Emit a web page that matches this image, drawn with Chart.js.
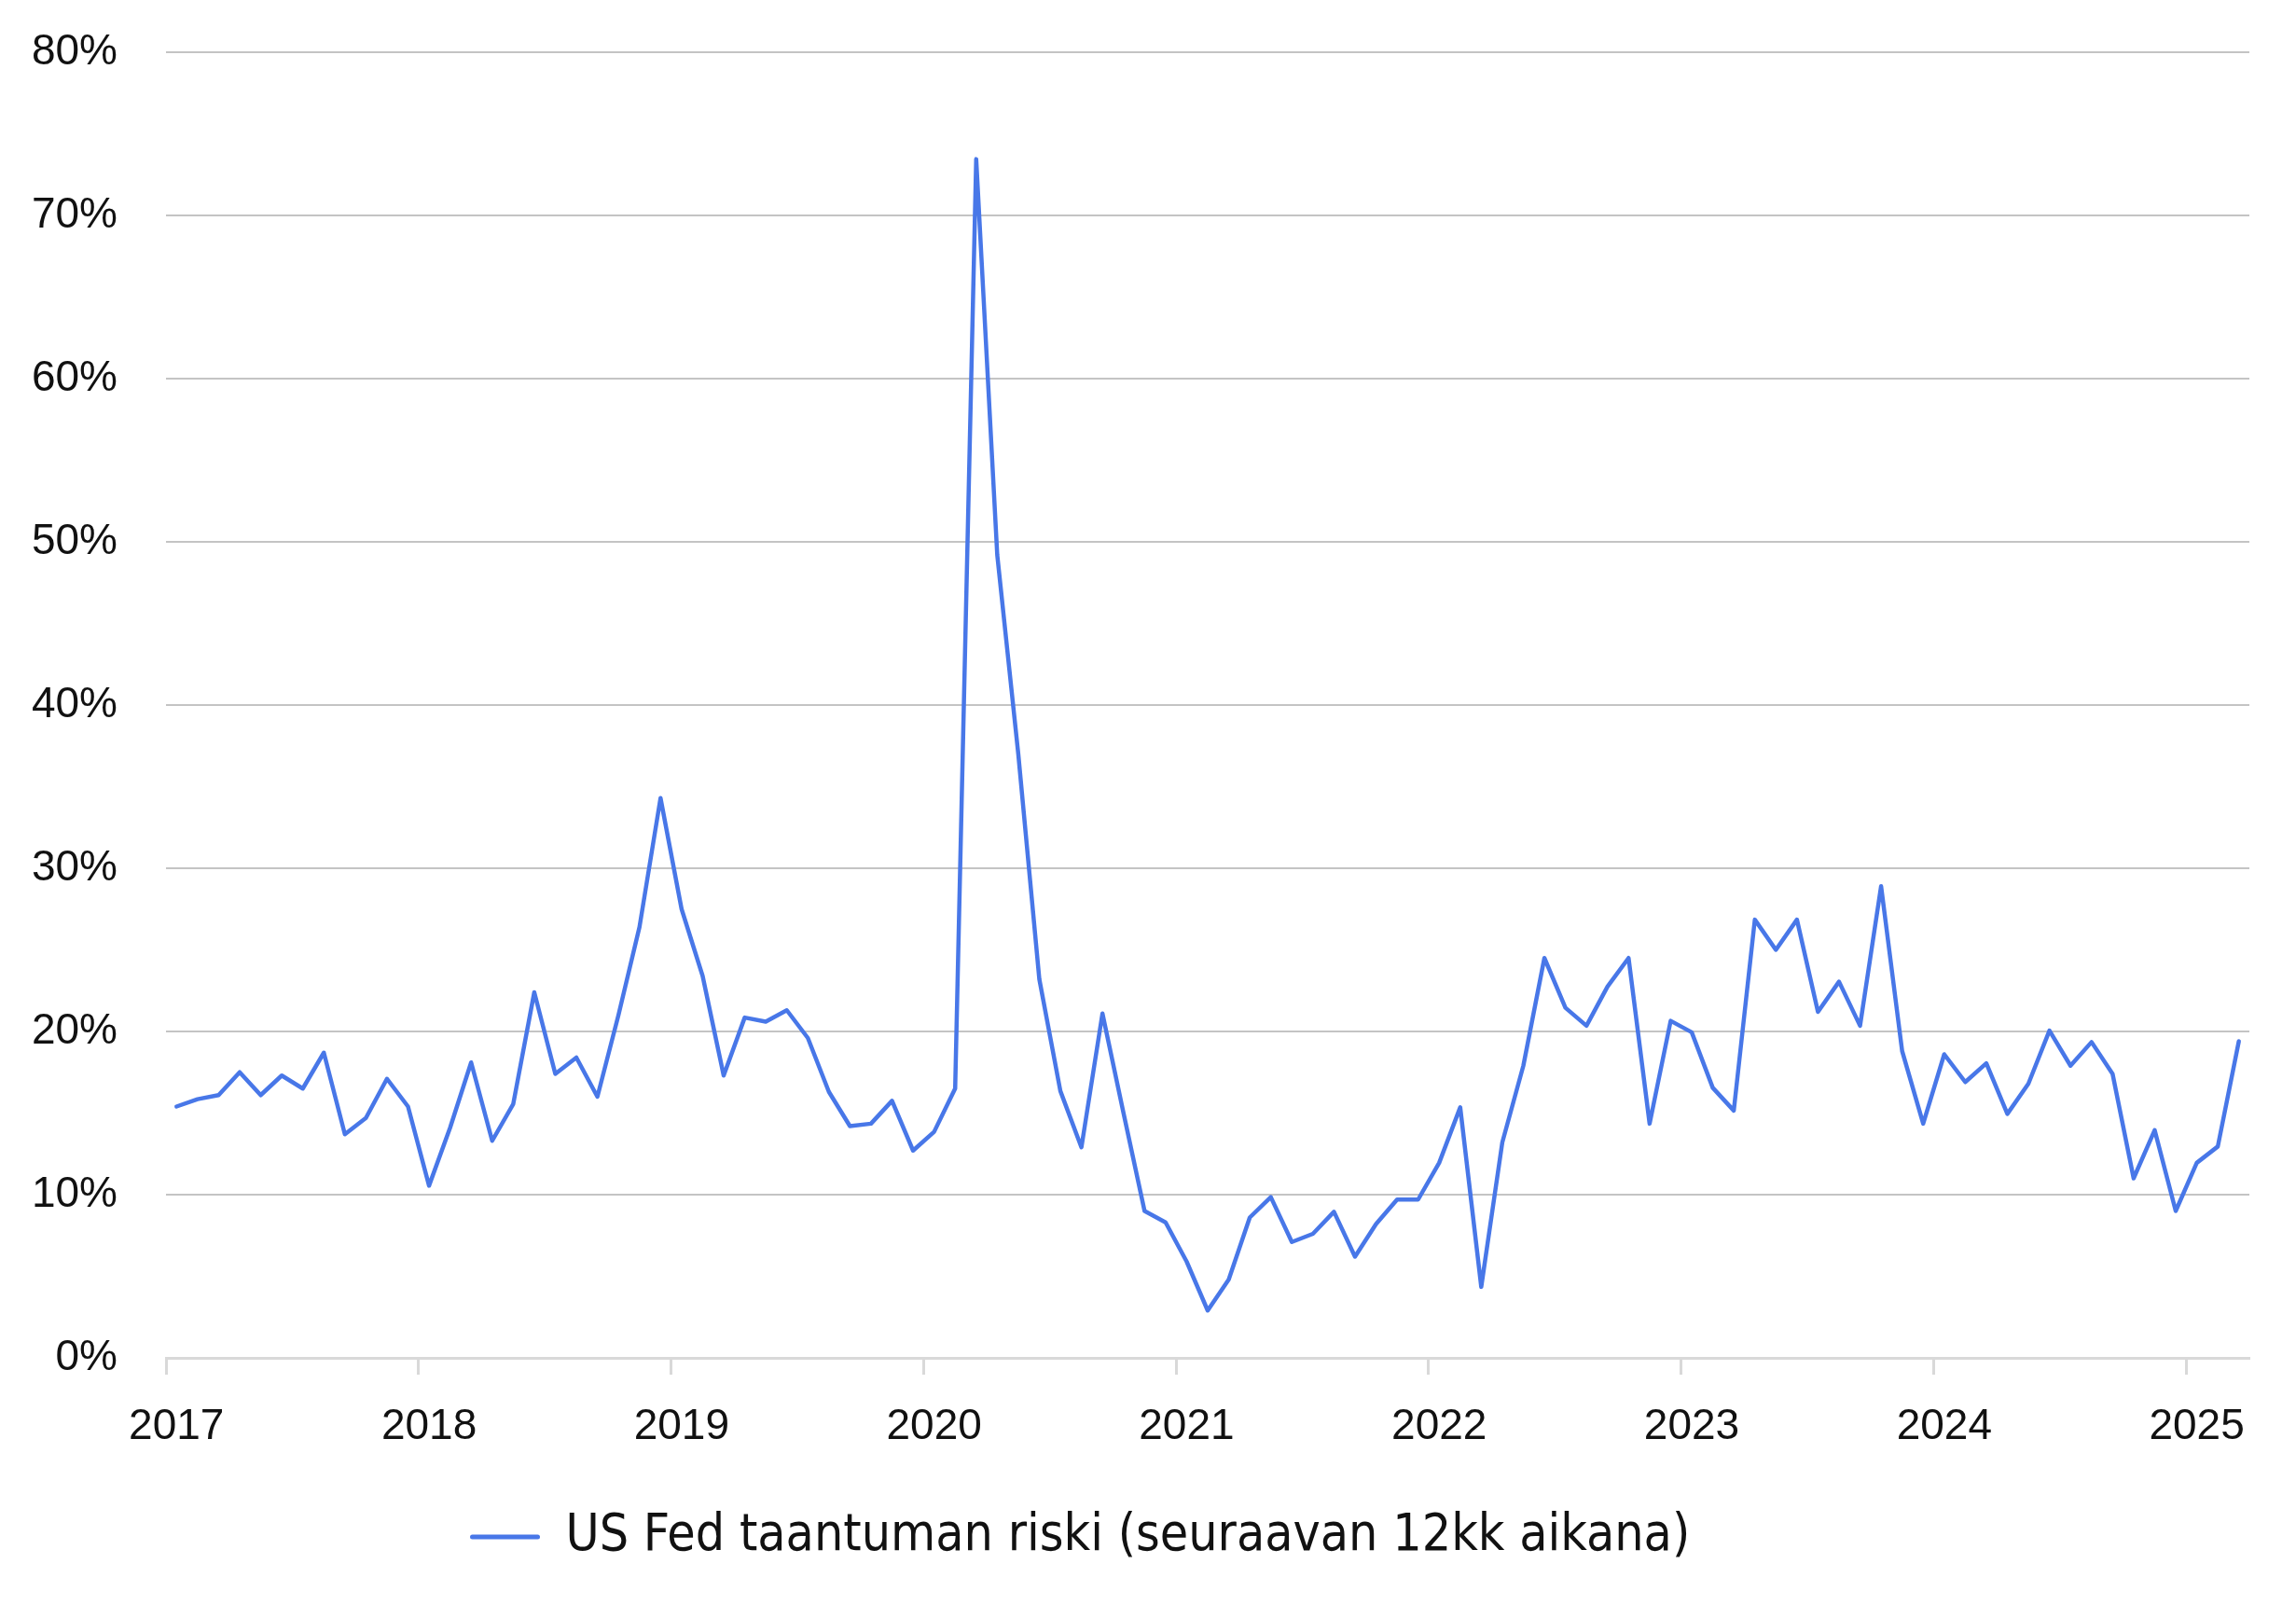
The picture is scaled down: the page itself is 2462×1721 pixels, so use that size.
<!DOCTYPE html>
<html lang="fi">
<head>
<meta charset="utf-8">
<title>US Fed taantuman riski</title>
<script src="https://cdn.jsdelivr.net/npm/chart.js@4.4.1/dist/chart.umd.min.js"></script>
<style>
  html, body { margin: 0; padding: 0; background: #fff; }
  #wrap { width: 2462px; height: 1721px; position: relative; }
</style>
</head>
<body>
<div id="wrap"><canvas id="riskChart"></canvas></div>
<script>
// Vuodet (x-akselin otsikot), kuukausittainen data alkaa tammikuusta 2017
const years = ["2017", "2018", "2019", "2020", "2021", "2022", "2023", "2024", "2025"];
const monthsInLastYear = 3;

// US Fed taantuman riski seuraavan 12kk aikana, %
const riski = [
  15.4, 15.85, 16.1, 17.5, 16.1, 17.3, 16.5, 18.7, 13.7, 14.7, 17.1, 15.4,     // 2017
  10.55, 14.1, 18.1, 13.3, 15.55, 22.4, 17.4, 18.4, 16.0, 21.0, 26.4, 34.3,    // 2018
  27.5, 23.4, 17.3, 20.85, 20.6, 21.3, 19.6, 16.3, 14.2, 14.35, 15.75, 12.7,   // 2019
  13.85, 16.5, 73.45, 49.2, 37.0, 23.2, 16.35, 12.9, 21.1, 15.0, 9.0, 8.3,     // 2020
  5.9, 2.9, 4.8, 8.6, 9.85, 7.1, 7.6, 8.95, 6.2, 8.2, 9.7, 9.7,                // 2021
  11.95, 15.35, 4.35, 13.2, 17.9, 24.5, 21.45, 20.35, 22.75, 24.5, 14.35, 20.65, // 2022
  19.95, 16.55, 15.15, 26.85, 25.0, 26.85, 21.2, 23.05, 20.35, 28.9, 18.8, 14.35, // 2023
  18.6, 16.9, 18.05, 14.95, 16.8, 20.05, 17.9, 19.35, 17.4, 11.0, 13.95, 9.0,  // 2024
  11.95, 12.95, 19.4                                                           // 2025
];

// y-akselin asteikko
const yTicks = { min: 0, max: 80, step: 10 };

const lineColor = "#4877E8";
const gridColor = "#c4c4c4";
const axisColor = "#d9d9d9";

// kuukausikategoriat
const labels = [];
years.forEach(function (y, yi) {
  const n = yi === years.length - 1 ? monthsInLastYear : 12;
  for (let m = 1; m <= n; m++) {
    labels.push(y + "-" + String(m).padStart(2, "0"));
  }
});

// siirretään selite samaan kohtaan kuin alkuperäisessä kuvassa
const legendShift = {
  id: "legendShift",
  afterLayout(chart) {
    if (chart.legend) {
      chart.legend.left = 504 - 10;
    }
  },
};

document.addEventListener("DOMContentLoaded", function () {
  const ctx = document.getElementById("riskChart");
  new Chart(ctx, {
    type: "line",
    data: {
      labels: labels,
      datasets: [
        {
          label: "US Fed taantuman riski (seuraavan 12kk aikana)",
          data: riski,
          borderColor: lineColor,
          backgroundColor: lineColor,
          borderWidth: 4.5,
          borderJoinStyle: "round",
          borderCapStyle: "round",
          pointRadius: 0,
          tension: 0,
          fill: false,
        },
      ],
    },
    plugins: [legendShift],
    options: {
      responsive: true,
      maintainAspectRatio: false,
      animation: false,
      layout: {
        padding: { top: 56, right: 50, bottom: 35.5, left: 0 },
      },
      scales: {
        x: {
          type: "category",
          offset: true,
          afterFit: function (scale) {
            scale.height = 154.5;
          },
          border: { display: true, color: axisColor, width: 3 },
          grid: {
            offset: true,
            drawOnChartArea: false,
            drawTicks: true,
            tickLength: 18,
            tickWidth: 3,
            color: function (c) {
              return c.index % 12 === 0 ? axisColor : "rgba(0,0,0,0)";
            },
          },
          ticks: {
            autoSkip: false,
            maxRotation: 0,
            padding: 29,
            color: "#111",
            font: { family: "'Liberation Sans', Arial, sans-serif", size: 46 },
            callback: function (value, index) {
              return index % 12 === 0 ? years[index / 12] : "";
            },
          },
        },
        y: {
          min: yTicks.min,
          max: yTicks.max,
          afterFit: function (scale) {
            scale.width = 178;
          },
          border: { display: false },
          grid: {
            drawTicks: true,
            tickLength: 24,
            tickColor: "rgba(0,0,0,0)",
            lineWidth: 2,
            color: function (c) {
              return c.tick && c.tick.value === 0 ? axisColor : gridColor;
            },
          },
          ticks: {
            stepSize: yTicks.step,
            padding: 28,
            color: "#111",
            font: { family: "'Liberation Sans', Arial, sans-serif", size: 46 },
            callback: function (value) {
              return value + "%";
            },
          },
        },
      },
      plugins: {
        tooltip: { enabled: false },
        legend: {
          position: "bottom",
          align: "start",
          labels: {
            boxWidth: 75,
            boxHeight: 5,
            padding: 10,
            color: "#111",
            font: {
              family: "'Liberation Sans Narrow', 'DejaVu Sans Condensed', 'Liberation Sans', sans-serif",
              size: 55,
            },
            generateLabels: function (chart) {
              const items = Chart.defaults.plugins.legend.labels.generateLabels(chart);
              return items.map(function (it) {
                it.lineWidth = 0;
                it.fillStyle = lineColor;
                it.borderRadius = 2.5;
                return it;
              });
            },
          },
        },
      },
    },
  });
});
</script>
</body>
</html>
